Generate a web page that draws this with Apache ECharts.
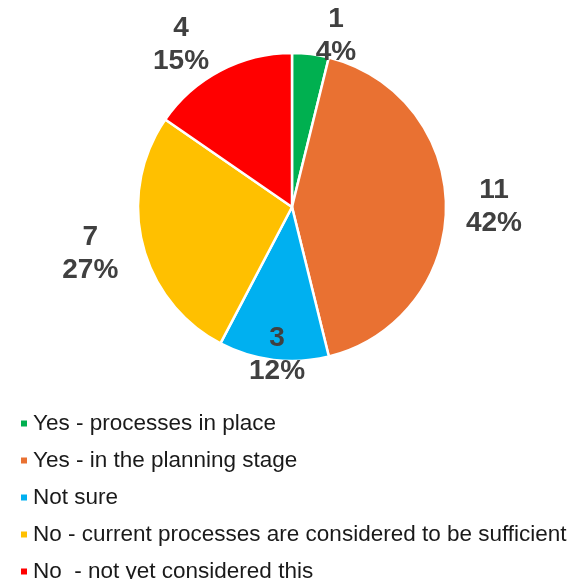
<!DOCTYPE html>
<html>
<head>
<meta charset="utf-8">
<script src="https://cdn.jsdelivr.net/npm/echarts@6/dist/echarts.min.js"></script>
<style>
  html, body { margin: 0; padding: 0; background: #ffffff; }
  #chart { width: 576px; height: 579px; }
</style>
</head>
<body>
<div id="chart"></div>
<script>
const categories = [
  'Yes - processes in place',
  'Yes - in the planning stage',
  'Not sure',
  'No - current processes are considered to be sufficient',
  'No  - not yet considered this'
];
const values = [1, 11, 3, 7, 4];
const colors = ['#00B050', '#E97132', '#00B0F0', '#FFC000', '#FF0000'];
// label placement (distance from centre along slice mid-angle, and sideways shift)
const labelRadial = [175, 202, 149, 207, 195];
const labelTangent = [23, 0, -3, 3, -23];

const CX = 292, CY = 207, R = 154;
const total = values.reduce((a, b) => a + b, 0);

const chart = echarts.init(document.getElementById('chart'), null, { renderer: 'canvas' });
chart.setOption({
  animation: false,
  backgroundColor: '#ffffff',
  color: colors,
  legend: {
    type: 'plain',
    orient: 'vertical',
    left: 14,
    top: 407,
    width: 570,
    height: 260,
    icon: 'rect',
    itemWidth: 8,
    itemHeight: 8,
    itemGap: 14,
    textStyle: { fontFamily: 'Liberation Sans, Arial, sans-serif', fontSize: 22.5, color: '#1a1a1a' },
    data: categories
  },
  series: [{
    type: 'pie',
    center: [CX, CY],
    radius: R,
    startAngle: 90,
    clockwise: true,
    percentPrecision: 0,
    avoidLabelOverlap: false,
    itemStyle: { borderColor: '#ffffff', borderWidth: 2.5 },
    label: {
      show: true,
      position: 'outside',
      formatter: '{c}\n{d}%',
      fontFamily: 'Liberation Sans, Arial, sans-serif',
      fontSize: 28,
      fontWeight: 'bold',
      lineHeight: 33,
      color: '#404040'
    },
    labelLine: { show: false },
    labelLayout: function (params) {
      const i = params.dataIndex;
      let cum = 0;
      for (let k = 0; k < i; k++) cum += values[k];
      const ang = (cum + values[i] / 2) / total * Math.PI * 2;
      const s = Math.sin(ang), c = Math.cos(ang);
      const r = labelRadial[i], t = labelTangent[i];
      return {
        x: CX + r * s + t * c,
        y: CY - r * c + t * s,
        align: 'center',
        verticalAlign: 'middle'
      };
    },
    emphasis: { disabled: true },
    data: categories.map((name, i) => ({ name: name, value: values[i] }))
  }]
});
</script>
</body>
</html>
